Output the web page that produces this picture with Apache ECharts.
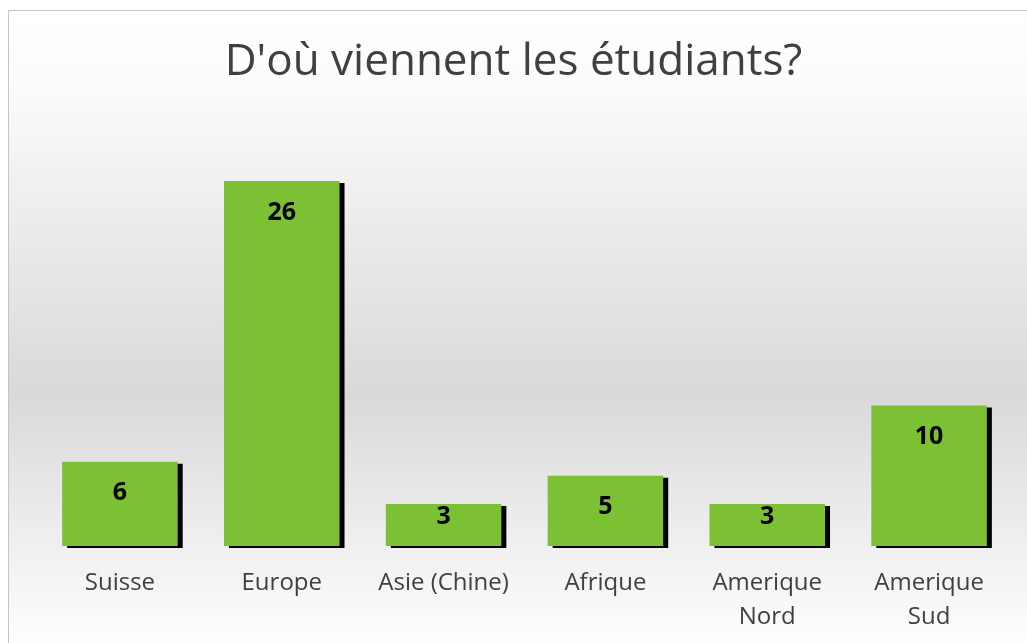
<!DOCTYPE html>
<html>
<head>
    <meta charset="utf-8">
    <title>ECharts</title>
    <script src="https://cdn.jsdelivr.net/npm/echarts@6/dist/echarts.min.js"></script>
    <style>
      html, body { margin: 0; padding: 0; background: #fff; }
      #main { width: 1027px; height: 643px; }
    </style>
</head>
<body>
    <div id="main"></div>
    <script type="text/javascript">
// categories + counts
let categories = ['Suisse', 'Europe', 'Asie (Chine)', 'Afrique', 'Amerique\nNord', 'Amerique\nSud']
let counts = [6, 26, 3, 5, 3, 10]

// short bars: label hugs the top edge (like excel does)
let barData = counts.map(v => ({
    value: v,
    label: { distance: v < 4 ? 0 : 19 }
}))

var option = {
    animation: false,
    graphic: [
        {
            type: 'rect',
            z: -10,
            silent: true,
            shape: { x: 8.5, y: 10.5, width: 1030, height: 640 },
            style: {
                fill: new echarts.graphic.LinearGradient(0, 0, 0, 1, [
                    { offset: 0, color: '#ffffff' },
                    { offset: 0.12, color: '#fbfbfb' },
                    { offset: 0.6, color: '#d9d9d9' },
                    { offset: 1, color: '#ffffff' }
                ]),
                stroke: '#c4c4c4',
                lineWidth: 1
            }
        }
    ],
    title: {
        text: "D'où viennent les étudiants?",
        left: 'center',
        top: 35,
        textStyle: {
            fontFamily: 'Open Sans',
            fontWeight: 'normal',
            fontSize: 44,
            color: '#404040'
        }
    },
    grid: {
        left: 39,
        right: 17,
        top: 181,
        bottom: 97
    },
    xAxis: {
        type: 'category',
        data: categories,
        axisLine: { show: false },
        axisTick: { show: false },
        axisLabel: {
            margin: 20,
            interval: 0,
            fontFamily: 'Open Sans',
            fontSize: 24,
            lineHeight: 34,
            color: '#404040'
        }
    },
    yAxis: {
        type: 'value',
        min: 0,
        max: 26,
        show: false,
        splitLine: { show: false }
    },
    series: [
        {
            type: 'bar',
            data: barData,
            barCategoryGap: '28.6%',
            itemStyle: {
                color: '#7cc034',
                shadowColor: '#000',
                shadowOffsetX: 5,
                shadowOffsetY: 2,
                shadowBlur: 0
            },
            label: {
                show: true,
                position: 'insideTop',
                fontFamily: 'Open Sans',
                fontWeight: 'bold',
                fontSize: 25,
                color: '#000'
            }
        }
    ]
}

echarts.init(document.getElementById('main')).setOption(option)
    </script>
</body>
</html>
